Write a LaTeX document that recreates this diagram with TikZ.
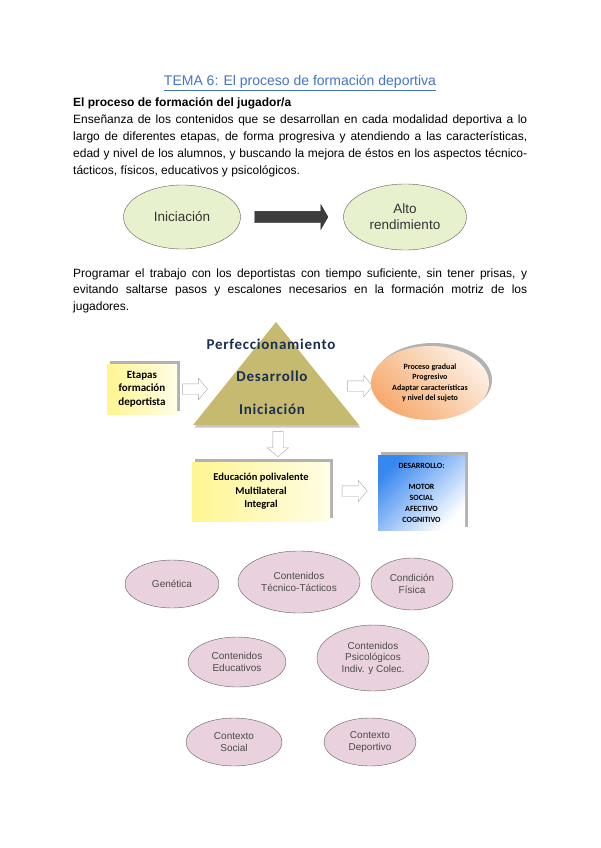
\documentclass[tikz,border=0pt]{standalone}
\usepackage{fontspec}
\setmainfont{Liberation Sans}
\newfontfamily\calfont{Carlito}
\newfontfamily\pyrfont[LetterSpace=5]{Carlito}
\usetikzlibrary{shapes.geometric,shapes.arrows,shadows,positioning}

\definecolor{titleblue}{RGB}{66,114,200}
\definecolor{greenfill}{RGB}{232,241,206}
\definecolor{edgegray}{RGB}{95,95,95}
\definecolor{arrowdark}{RGB}{62,62,62}
\definecolor{khaki}{RGB}{198,186,112}
\definecolor{navy}{RGB}{26,46,82}
\definecolor{pinkfill}{RGB}{233,210,221}
\definecolor{pinktext}{RGB}{75,75,75}
\definecolor{yellowL}{RGB}{255,245,145}
\definecolor{yellowR}{RGB}{255,253,230}
\definecolor{blueL}{RGB}{55,135,240}
\definecolor{orangeD}{RGB}{246,170,110}
\definecolor{orangeL}{RGB}{253,240,228}

\tikzset{
	greenell/.style={ellipse, draw=edgegray, fill=greenfill, inner sep=0pt, align=center, text=black!80, font=\fontsize{13.5}{16}\selectfont},
	pinkell/.style={ellipse, draw=edgegray, fill=pinkfill, inner sep=0pt, align=center, text=pinktext, font=\fontsize{10}{11.5}\selectfont},
	bigarrow/.style={single arrow, draw=black!85, fill=arrowdark, inner sep=5.5pt, single arrow head extend=6.5pt, single arrow tip angle=120, minimum height=73pt},
	hollowarrow/.style={single arrow, draw=gray!70, fill=white, inner sep=5pt, single arrow head extend=5.5pt, single arrow tip angle=100, minimum height=25pt},
	shadowbox/.style={drop shadow={shadow xshift=3pt, shadow yshift=3pt, fill=black!30, opacity=1}},
	yellowbox/.style={rectangle, shadowbox, left color=yellowL, right color=yellowR, inner sep=0pt, align=center},
	pyrtext/.style={text=navy, font=\pyrfont\bfseries\fontsize{15}{17}\selectfont},
	bodytext/.style={inner sep=0pt, font=\fontsize{12}{16.8}\selectfont}
}

\begin{document}
\begin{tikzpicture}[x=1pt, y=-1pt]
	\useasboundingbox (0,0) rectangle (600,848);
	
	% Title and first paragraph
	\node[anchor=base, text=titleblue, font=\fontsize{14}{17}\selectfont] (title) at (300,86) {\underline{TEMA 6: El proceso de formación deportiva}};
	\node[bodytext, anchor=base west, font=\bfseries\fontsize{12}{16.8}\selectfont] (head) at (73,107) {El proceso de formación del jugador/a};
	\node[bodytext, anchor=base west, text width=454pt, align=justify] (intro) at (73,124) {Enseñanza de los contenidos que se desarrollan en cada modalidad deportiva a lo\linebreak largo de diferentes etapas, de forma progresiva y atendiendo a las características,\linebreak edad y nivel de los alumnos, y buscando la mejora de éstos en los aspectos técnico-\linebreak tácticos, físicos, educativos y psicológicos.};
	
	% Iniciacion -> Alto rendimiento
	\node[greenell, minimum width=117pt, minimum height=64pt] (ini) at (182,217) {Iniciación};
	\node[greenell, minimum width=123pt, minimum height=66pt] (alto) at (405,217) {Alto\\rendimiento};
	\node[bigarrow, right=14pt of ini] (flecha) {};
	
	% Second paragraph
	\node[bodytext, anchor=base west, text width=454pt, align=justify] (programar) at (73,277) {Programar el trabajo con los deportistas con tiempo suficiente, sin tener prisas, y\linebreak evitando saltarse pasos y escalones necesarios en la formación motriz de los\linebreak jugadores.};
	
	% Pyramid
	\coordinate (apex) at (276,322);
	\coordinate (baseR) at (359,425);
	\coordinate (baseL) at (193,425);
	\fill[black!22] ([shift={(1.5,2.5)}]apex) -- ([shift={(1.5,2.5)}]baseR) -- ([shift={(1.5,2.5)}]baseL) -- cycle;
	\fill[khaki] (apex) -- (baseR) -- (baseL) -- cycle;
	\node[pyrtext] (perf) at (271,344) {Perfeccionamiento};
	\node[pyrtext] (desa) at (272,376) {Desarrollo};
	\node[pyrtext] (inic) at (272,409) {Iniciación};
	
	% Boxes round the pyramid
	\node[yellowbox, minimum width=70pt, minimum height=50pt, font=\calfont\bfseries\fontsize{11}{13.3}\selectfont] (etapas) at (142,389) {Etapas\\formación\\deportista};
	\node[hollowarrow, right=5pt of etapas] (fl1) {};
	\node[hollowarrow] (fl2) at (358,386) {};
	\node[ellipse, shadowbox, top color=orangeL, bottom color=orangeD, shading angle=-45, minimum width=118pt, minimum height=74pt, inner sep=0pt, align=center, font=\calfont\bfseries\fontsize{8}{10.3}\selectfont] (proceso) at (430,383) {Proceso gradual\\Progresivo\\Adaptar características\\y nivel del sujeto};
	\node[hollowarrow, shape border rotate=270] (fl3) at (278,442) {};
	\node[yellowbox, minimum width=138pt, minimum height=59pt, font=\calfont\bfseries\fontsize{10.5}{13.5}\selectfont] (educ) at (261,491.5) {Educación polivalente\\Multilateral\\Integral};
	\node[hollowarrow] (fl4) at (352.5,491) {};
	\node[rectangle, shadowbox, top color=blueL, bottom color=white, shading angle=45, minimum width=87pt, minimum height=75pt, inner sep=0pt, align=center, font=\calfont\bfseries\fontsize{8}{10.8}\selectfont] (desarr) at (421.5,492.5) {DESARROLLO:\\~\\MOTOR\\SOCIAL\\AFECTIVO\\COGNITIVO};
	
	% Factors
	\node[pinkell, minimum width=94pt, minimum height=48pt] (genetica) at (172,584) {Genética};
	\node[pinkell, minimum width=122pt, minimum height=62pt] (tecnico) at (299,582) {Contenidos\\Técnico-Tácticos};
	\node[pinkell, minimum width=82pt, minimum height=52pt] (fisica) at (412,584) {Condición\\Física};
	\node[pinkell, minimum width=98pt, minimum height=50pt] (educativos) at (237,662) {Contenidos\\Educativos};
	\node[pinkell, minimum width=112pt, minimum height=66pt] (psico) at (373,658) {Contenidos\\Psicológicos\\Indiv. y Colec.};
	\node[pinkell, minimum width=96pt, minimum height=48pt] (social) at (234,742) {Contexto\\Social};
	\node[pinkell, minimum width=92pt, minimum height=48pt] (deportivo) at (370,742) {Contexto\\Deportivo};
\end{tikzpicture}
\end{document}
